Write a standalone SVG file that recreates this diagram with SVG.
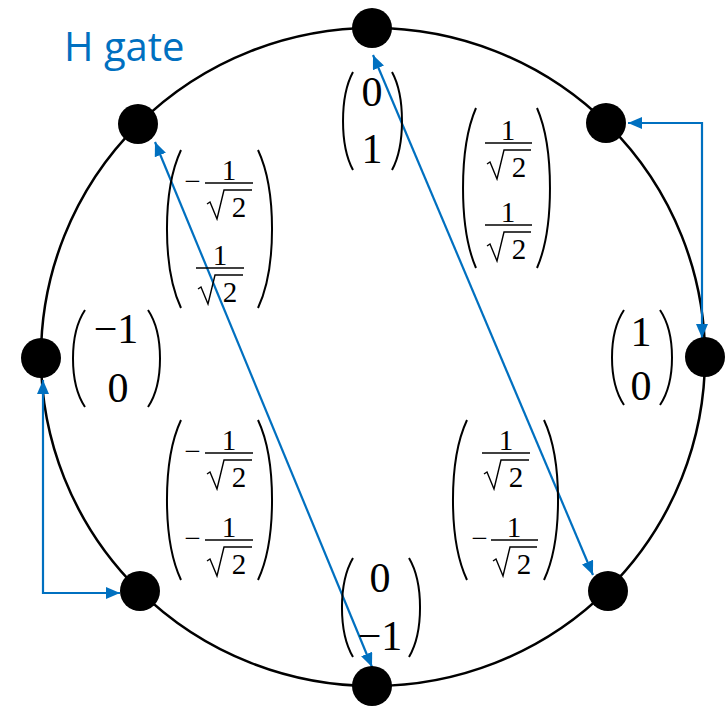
<svg xmlns="http://www.w3.org/2000/svg" width="725" height="706" viewBox="0 0 725 706">
<defs>
<marker id="ah" viewBox="0 0 14 12" refX="14" refY="6" markerWidth="14" markerHeight="12" markerUnits="userSpaceOnUse" orient="auto-start-reverse">
<path d="M0,0 L14,6 L0,12 z" fill="#0070C0"/>
</marker>
<style>
.ring{fill:none;stroke:#000;stroke-width:2.5}
.dot{fill:#000}
.conn{fill:none;stroke:#0070C0;stroke-width:2.2;marker-start:url(#ah);marker-end:url(#ah)}
.par{fill:none;stroke:#000;stroke-width:2}
.big{font-family:"Liberation Serif","DejaVu Serif",serif;font-size:42px;fill:#000;text-anchor:middle}
.sm{font-family:"Liberation Serif","DejaVu Serif",serif;font-size:29px;fill:#000;text-anchor:middle}
.bar{stroke:#000;stroke-width:1.4;fill:none}
.title{font-family:"Open Sans","Liberation Sans",sans-serif;font-size:40px;fill:#0070C0}
</style>
</defs>
<rect width="725" height="706" fill="#fff"/>
<ellipse class="ring" cx="373" cy="357" rx="332" ry="329"/>
<text class="title" x="64" y="61">H gate</text>

<g id="connectors">
<polyline class="conn" points="628,123 702,123 702,338"/>
<polyline class="conn" points="43,380 43,593 120,593"/>
<line class="conn" x1="155" y1="142" x2="372" y2="667"/>
<line class="conn" x1="373" y1="55" x2="593" y2="575"/>
</g>

<g id="n-top"><circle class="dot" cx="372" cy="28" r="20"/></g>
<g id="n-topright"><circle class="dot" cx="606" cy="123" r="20"/></g>
<g id="n-right"><circle class="dot" cx="705" cy="357" r="20"/></g>
<g id="n-bottomright"><circle class="dot" cx="608" cy="591" r="20"/></g>
<g id="n-bottom"><circle class="dot" cx="372" cy="686" r="20"/></g>
<g id="n-bottomleft"><circle class="dot" cx="140" cy="591" r="20"/></g>
<g id="n-left"><circle class="dot" cx="41" cy="358" r="20"/></g>
<g id="n-topleft"><circle class="dot" cx="138" cy="124" r="20"/></g>

<g id="m-top">
<path class="par" d="M353,72 C339.7,96.5 339.7,145.5 353,170"/>
<path class="par" d="M392,72 C405.3,96.5 405.3,145.5 392,170"/>
<text class="big" x="372" y="106">0</text>
<text class="big" x="372" y="163">1</text>
</g>

<g id="m-right">
<path class="par" d="M624,310 C608,334 608,381 624,405"/>
<path class="par" d="M660,310 C676,334 676,381 660,405"/>
<text class="big" x="641" y="346">1</text>
<text class="big" x="641" y="400">0</text>
</g>

<g id="m-left">
<path class="par" d="M85,310 C69,334 69,383 85,407"/>
<path class="par" d="M148,310 C164,334 164,383 148,407"/>
<text class="big" x="116" y="343">−1</text>
<text class="big" x="118" y="402">0</text>
</g>

<g id="m-bottom">
<path class="par" d="M353,558 C338.3,583 338.3,632 353,657"/>
<path class="par" d="M409,558 C423.7,583 423.7,632 409,657"/>
<text class="big" x="380" y="592">0</text>
<text class="big" x="380" y="650">−1</text>
</g>

<g id="m-topleft">
<path class="par" d="M181,150 C162.3,190 162.3,268 181,308"/>
<path class="par" d="M258,150 C276.7,190 276.7,268 258,308"/>
<text class="sm" x="192.5" y="191">−</text>
<text class="sm" x="229" y="180">1</text>
<line class="bar" x1="205" y1="183" x2="253" y2="183"/>
<path class="bar" d="M207,204 L210,202 L217,219 L224,190 L252,190"/>
<text class="sm" x="239" y="217">2</text>
<text class="sm" x="220" y="265">1</text>
<line class="bar" x1="196" y1="268" x2="244" y2="268"/>
<path class="bar" d="M198,289 L201,287 L208,304 L215,275 L243,275"/>
<text class="sm" x="230" y="302">2</text>
</g>

<g id="m-topright">
<path class="par" d="M476,108 C458.7,148 458.7,228 476,268"/>
<path class="par" d="M537,108 C554.3,148 554.3,228 537,268"/>
<text class="sm" x="508" y="140">1</text>
<line class="bar" x1="485" y1="143" x2="532" y2="143"/>
<path class="bar" d="M487,164 L490,162 L497,179 L504,150 L531,150"/>
<text class="sm" x="519" y="177">2</text>
<text class="sm" x="508" y="222">1</text>
<line class="bar" x1="485" y1="225" x2="532" y2="225"/>
<path class="bar" d="M487,246 L490,244 L497,261 L504,232 L531,232"/>
<text class="sm" x="519" y="259">2</text>
</g>

<g id="m-bottomleft">
<path class="par" d="M181,420 C162.3,460 162.3,540 181,580"/>
<path class="par" d="M258,420 C276.7,460 276.7,540 258,580"/>
<text class="sm" x="192.5" y="461">−</text>
<text class="sm" x="229" y="450">1</text>
<line class="bar" x1="205" y1="453" x2="253" y2="453"/>
<path class="bar" d="M207,474 L210,472 L217,489 L224,460 L252,460"/>
<text class="sm" x="239" y="487">2</text>
<text class="sm" x="192.5" y="548">−</text>
<text class="sm" x="229" y="537">1</text>
<line class="bar" x1="205" y1="540" x2="253" y2="540"/>
<path class="bar" d="M207,561 L210,559 L217,576 L224,547 L252,547"/>
<text class="sm" x="239" y="574">2</text>
</g>

<g id="m-bottomright">
<path class="par" d="M467,420 C448.3,460 448.3,540 467,580"/>
<path class="par" d="M544,420 C562.7,460 562.7,540 544,580"/>
<text class="sm" x="506" y="450">1</text>
<line class="bar" x1="482" y1="453" x2="530" y2="453"/>
<path class="bar" d="M484,474 L487,472 L494,489 L501,460 L529,460"/>
<text class="sm" x="516" y="487">2</text>
<text class="sm" x="479.5" y="548">−</text>
<text class="sm" x="514" y="537">1</text>
<line class="bar" x1="491" y1="540" x2="538" y2="540"/>
<path class="bar" d="M493,561 L496,559 L503,576 L510,547 L537,547"/>
<text class="sm" x="524" y="574">2</text>
</g>
</svg>
